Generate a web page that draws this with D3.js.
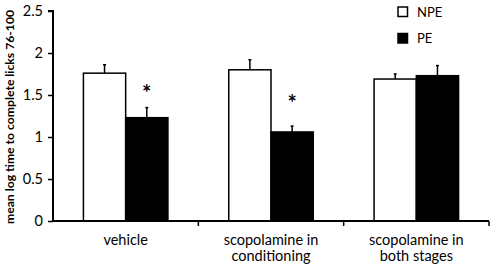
<!DOCTYPE html>
<html><head><meta charset="utf-8">
<script src="https://cdn.jsdelivr.net/npm/d3@7"></script>
<style>body{margin:0;background:#fff}svg{display:block}text{font-family:Lato,"Open Sans",sans-serif;fill:#000}</style>
</head><body><svg id="c" width="492" height="267"></svg>
<script>
const categories = [["vehicle"], ["scopolamine in", "conditioning"], ["scopolamine in", "both stages"]];
const seriesNames = ["NPE", "PE"];
const npeValues = [1.76, 1.80, 1.69];
const npeErrors = [0.10, 0.12, 0.06];
const peValues = [1.23, 1.06, 1.73];
const peErrors = [0.12, 0.07, 0.12];
const significance = ["*", "*", ""];
const starLevels = [1.58, 1.46, null];
const yTicks = [0, 0.5, 1, 1.5, 2, 2.5];
const yTitle = "mean log time to complete licks 76-100";

(function () {
const svg = d3.select("#c");
const mLeft = 53, mRight = 489, mTop = 11, mBottom = 221;
const x = d3.scaleBand().domain(d3.range(categories.length)).range([mLeft, mRight]).paddingInner(0).paddingOuter(0);
const y = d3.scaleLinear().domain([0, 2.5]).range([mBottom, mTop]);
const sub = d3.scaleBand().domain(seriesNames).range([0, x.bandwidth()]).paddingInner(0).paddingOuter(0.72);
const fills = {NPE: "#fff", PE: "#000"};

const data = [];
categories.forEach((c, i) => {
  data.push({i, s: "NPE", v: npeValues[i], e: npeErrors[i]});
  data.push({i, s: "PE", v: peValues[i], e: peErrors[i]});
});

const eb = svg.append("g").attr("stroke", "#000").attr("stroke-width", 1.5);
data.forEach(d => {
  const cx = x(d.i) + sub(d.s) + sub.bandwidth() / 2;
  eb.append("line").attr("x1", cx).attr("x2", cx).attr("y1", y(d.v)).attr("y2", y(d.v + d.e));
  eb.append("line").attr("x1", cx - 1.5).attr("x2", cx + 1.5).attr("y1", y(d.v + d.e)).attr("y2", y(d.v + d.e));
});

svg.append("g").selectAll("rect").data(data).join("rect")
  .attr("x", d => x(d.i) + sub(d.s))
  .attr("y", d => y(d.v))
  .attr("width", sub.bandwidth())
  .attr("height", d => y(0) - y(d.v))
  .attr("fill", d => fills[d.s])
  .attr("stroke", "#000").attr("stroke-width", 1.5);

categories.forEach((c, i) => {
  if (!significance[i]) return;
  svg.append("text")
    .attr("x", x(i) + sub("PE") + sub.bandwidth() / 2)
    .attr("y", y(starLevels[i]) + 13)
    .attr("text-anchor", "middle")
    .attr("font-family", "DejaVu Sans")
    .attr("font-size", 22).attr("font-weight", "bold")
    .text(significance[i]);
});

const ya = svg.append("g").attr("transform", `translate(${mLeft},0)`)
  .call(d3.axisLeft(y).tickValues(yTicks).tickFormat(d3.format("")).tickSize(5).tickPadding(5));
ya.select(".domain").attr("stroke-width", 2).attr("d", `M-5,${mTop}H0V${mBottom}`);
ya.selectAll(".tick line").attr("stroke-width", 1.5);
ya.selectAll(".tick text").attr("font-size", 14.5).attr("font-family", "Lato");

const xa = svg.append("g").attr("transform", `translate(0,${mBottom})`);
xa.append("line").attr("x1", mLeft).attr("x2", mRight).attr("stroke", "#000").attr("stroke-width", 2);
const bounds = categories.map((c, i) => x(i)).concat([mRight]).slice(1);
xa.selectAll(".tk").data(bounds).join("line").attr("class", "tk")
  .attr("x1", d => d).attr("x2", d => d).attr("y1", 0).attr("y2", 5)
  .attr("stroke", "#000").attr("stroke-width", 1.5);
categories.forEach((lines, i) => {
  const t = xa.append("text").attr("text-anchor", "middle").attr("font-size", 14.5)
    .attr("x", x(i) + x.bandwidth() / 2).attr("y", 24);
  lines.forEach((l, j) => t.append("tspan").attr("x", x(i) + x.bandwidth() / 2).attr("dy", j ? 15.5 : 0).text(l));
});

svg.append("text").attr("transform", `translate(14,${(mTop + mBottom) / 2 + 1}) rotate(-90)`)
  .attr("text-anchor", "middle").attr("font-size", 12.2).attr("font-weight", "bold").text(yTitle);

const lg = svg.append("g");
seriesNames.forEach((s, i) => {
  lg.append("rect").attr("x", 398).attr("y", 7 + i * 26.5).attr("width", 9.5).attr("height", 9.5)
    .attr("fill", fills[s]).attr("stroke", "#000").attr("stroke-width", 1.5);
  lg.append("text").attr("x", 417).attr("y", 16.5 + i * 26.5).attr("font-size", 13).text(s);
});
})();
</script></body></html>
